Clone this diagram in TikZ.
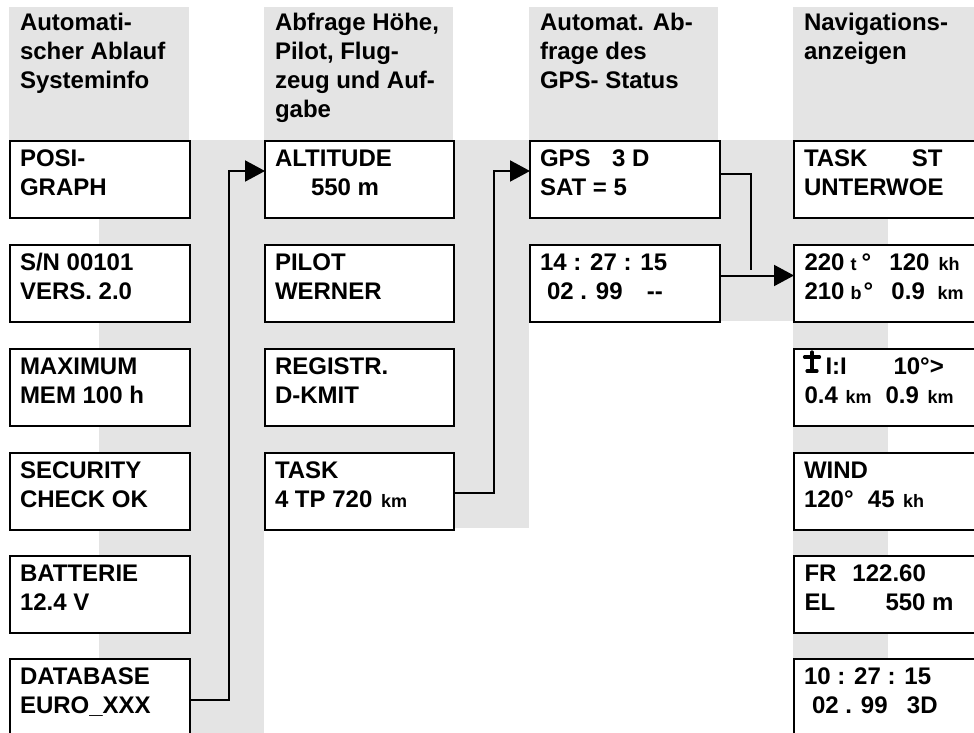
\documentclass[tikz,border=0pt]{standalone}
\usepackage{fontspec}
\setmainfont{Liberation Sans}
\usetikzlibrary{arrows.meta}
\definecolor{bandgray}{RGB}{228,228,228}
\newcommand\two[2]{\vtop{\hbox{#1}\hbox{#2}}}
\newcommand\three[3]{\vtop{\hbox{#1}\hbox{#2}\hbox{#3}}}
\newcommand\four[4]{\vtop{\hbox{#1}\hbox{#2}\hbox{#3}\hbox{#4}}}
\newcommand\pos[2]{\rlap{\hskip#1pt\relax #2}}
\newcommand\sm{\fontsize{18}{20}\selectfont}
\tikzset{
  band/.style={fill=bandgray,draw=none},
  box/.style={draw=black,line width=2.4pt,fill=white,rectangle,anchor=north west,
    minimum width=#1,minimum height=77pt,inner sep=0pt,outer sep=0pt},
  box/.default=180pt,
  txt/.style={anchor=base west,inner sep=0pt,outer sep=0pt,
    font=\bfseries\fontsize{24}{29}\selectfont},
  conn/.style={draw=black,line width=2pt},
  arr/.style={conn,-{Triangle[length=20pt,width=21pt]}},
  glider/.style={line width=3.2pt,line cap=round},
}
\begin{document}
\begin{tikzpicture}[x=1pt,y=-1pt]
\useasboundingbox (0,0) rectangle (974,733);
% background bands
\fill[band] (9,7) rectangle (189,140);
\fill[band] (264,7) rectangle (453,140);
\fill[band] (529,7) rectangle (718,140);
\fill[band] (793,7) rectangle (974,140);
\fill[band] (99,140) rectangle (264,733);
\fill[band] (264,140) rectangle (529,528);
\fill[band] (529,218) rectangle (793,321);
\fill[band] (720,140) rectangle (793,321);
\fill[band] (793,218) rectangle (888,733);
% headers
\node[txt] (h1) at (20,31) {\three{Automati-}{scher Ablauf}{Systeminfo}};
\node[txt] (h2) at (275,31) {\four{Abfrage Höhe,}{Pilot, Flug-}{zeug und Auf-}{gabe}};
\node[txt] (h3) at (540,31) {\three{Automat. Ab-}{frage des}{GPS- Status}};
\node[txt] (h4) at (804,31) {\two{Navigations-}{anzeigen}};
% column 1
\node[box] (posi) at (10,141) {};
\node[box] (sn) at (10,245) {};
\node[box] (maxm) at (10,349) {};
\node[box] (sec) at (10,453) {};
\node[box] (bat) at (10,556) {};
\node[box] (db) at (10,659) {};
\node[txt] (tposi) at (20,166) {\two{POSI-}{GRAPH}};
\node[txt] (tsn) at (20,270) {\two{S/N 00101}{VERS. 2.0}};
\node[txt] (tmax) at (20,374) {\two{MAXIMUM}{MEM 100 h}};
\node[txt] (tsec) at (20,478) {\two{SECURITY}{CHECK OK}};
\node[txt] (tbat) at (20,581) {\two{BATTERIE}{12.4 V}};
\node[txt] (tdb) at (20,684) {\two{DATABASE}{EURO\_XXX}};
% column 2
\node[box=189pt] (alt) at (265,141) {};
\node[box=189pt] (pil) at (265,245) {};
\node[box=189pt] (reg) at (265,349) {};
\node[box=189pt] (task) at (265,453) {};
\node[txt] (talt) at (275,166) {\two{ALTITUDE}{\pos{36}{550 m}}};
\node[txt] (tpil) at (275,270) {\two{PILOT}{WERNER}};
\node[txt] (treg) at (275,374) {\two{REGISTR.}{D-KMIT}};
\node[txt] (ttask) at (275,478) {\two{TASK}{\pos{0}{4 TP 720}\pos{106}{\sm km}}};
% column 3
\node[box=190pt] (gps) at (530,141) {};
\node[box=190pt] (time) at (530,245) {};
\node[txt] (tgps) at (540,166) {\two{\pos{0}{GPS}\pos{72}{3 D}}{SAT = 5}};
\node[txt] (ttime) at (540,270) {\two{14 : 27 : 15}{\pos{7}{02 . 99}\pos{107}{-{}-}}};
% column 4
\node[box=190pt] (nav1) at (794,141) {};
\node[box=190pt] (nav2) at (794,245) {};
\node[box=190pt] (nav3) at (794,349) {};
\node[box=190pt] (nav4) at (794,453) {};
\node[box=190pt] (nav5) at (794,556) {};
\node[box=190pt] (nav6) at (794,659) {};
\node[txt] (tnav1) at (804,166) {\two{\pos{0}{TASK}\pos{108}{ST}}{UNTERWOE}};
\node[txt] (tnav2) at (804,270) {\two{\pos{0}{220}\pos{46}{\sm t}\pos{57}{°}\pos{85}{120}\pos{134}{\sm kh}}{\pos{0}{210}\pos{46}{\sm b}\pos{59}{°}\pos{87}{0.9}\pos{133}{\sm km}}};
\node[txt] (tnav3) at (804,374) {\two{\pos{21}{I:I}\pos{89}{10°>}}{\pos{0}{0.4}\pos{41}{\sm km}\pos{81}{0.9}\pos{123}{\sm km}}};
\node[txt] (tnav4) at (804,478) {\two{WIND}{\pos{0}{120°}\pos{64}{45}\pos{99}{\sm kh}}};
\node[txt] (tnav5) at (804,581) {\two{\pos{0}{FR}\pos{48}{122.60}}{\pos{0}{EL}\pos{81}{550 m}}};
\node[txt] (tnav6) at (804,684) {\two{10 : 27 : 15}{\pos{8}{02 . 99}\pos{103}{3D}}};
% glider symbol
\draw[glider] (812,352) -- (812,371);
\draw[glider] (804.5,357) -- (819.5,357);
\draw[glider] (807,371) -- (817,371);
% connectors
\draw[arr] ([yshift=-2.5pt]db.east) -- ++(39,0) |- ([yshift=8.5pt]alt.west);
\draw[arr] ([yshift=-1pt]task.east) -- ++(40,0) |- ([yshift=8.5pt]gps.west);
\coordinate (jn) at (751,270);
\draw[conn] ([yshift=5.5pt]gps.east) -| (jn);
\draw[arr] ([yshift=8pt]time.east) -- ([yshift=8pt]nav2.west);
\end{tikzpicture}
\end{document}
